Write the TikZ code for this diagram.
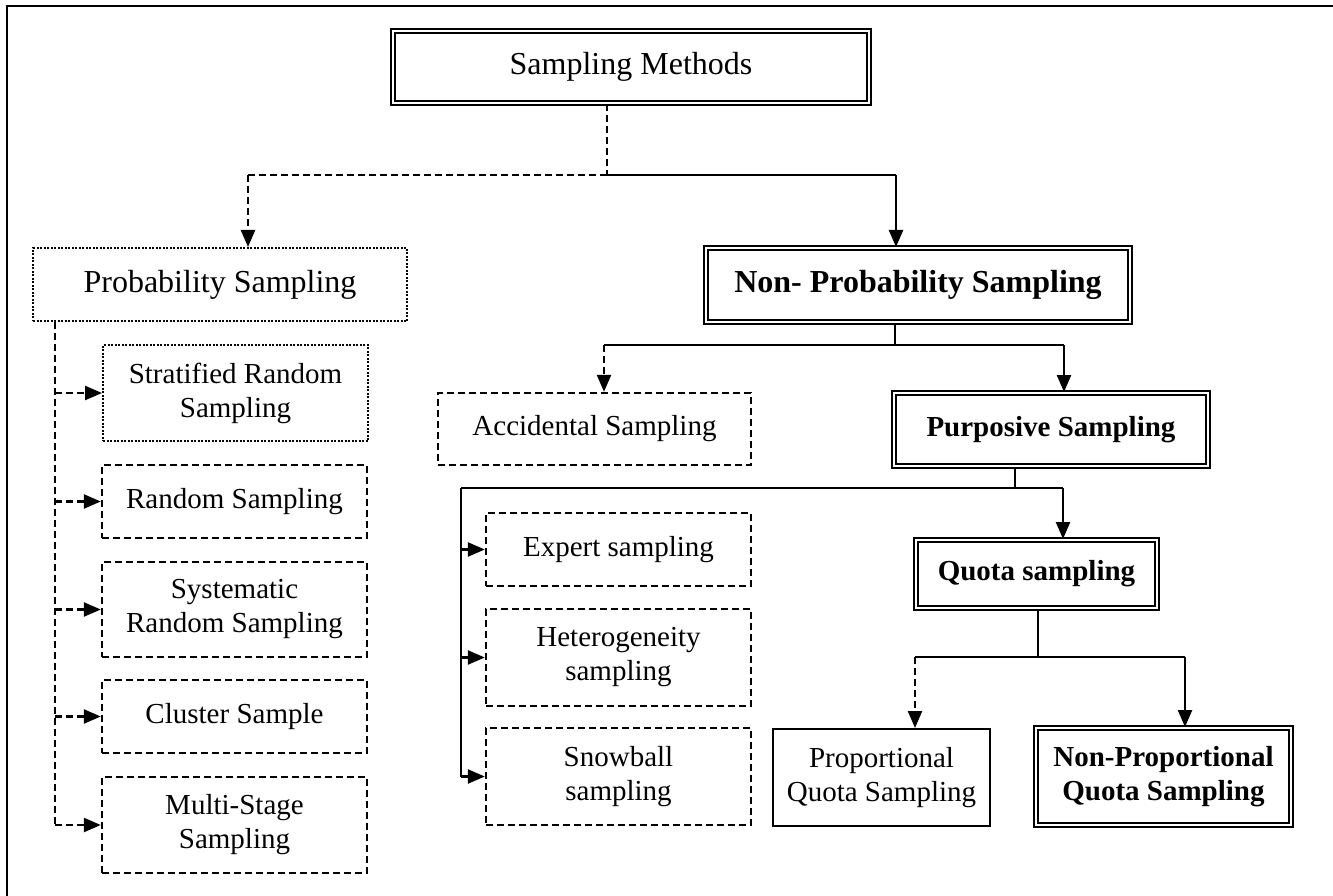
\documentclass[tikz,border=0pt]{standalone}
\usepackage{fontspec}
\setmainfont{Liberation Serif}
\usetikzlibrary{arrows.meta}
\begin{document}
\begin{tikzpicture}[x=1pt,y=-1pt,
  box/.style={draw, line width=2pt, inner sep=0pt, align=center, font=\fontsize{29}{34}\selectfont},
  dbox/.style={box, double, double distance=2.5pt, line width=2pt, font=\fontsize{29}{34}\selectfont\bfseries},
  dashbox/.style={box, dash pattern=on 7pt off 4pt, line width=2.4pt},
  dotbox/.style={box, dash pattern=on 2pt off 1.5pt, line width=2pt},
  ln/.style={line width=2.4pt},
  dln/.style={ln, dash pattern=on 7pt off 4pt},
  arr/.style={-{Triangle[length=17pt,width=14pt]}},
]
\useasboundingbox (0,0) rectangle (1333,896);
\draw[line width=2.4pt] (7,6) rectangle (1338,902);

% nodes
\node[dbox, font={\fontsize{32}{36}\selectfont}, minimum width=476, minimum height=72] (title) at (631,67) {Sampling Methods};
\node[dotbox, font={\fontsize{32}{36}\selectfont}, minimum width=374, minimum height=73] (prob) at (220,284.5) {Probability Sampling};
\node[dbox, font={\fontsize{32}{36}\selectfont\bfseries}, minimum width=424, minimum height=74] (np) at (918,285) {Non- Probability Sampling};

\node[dotbox, minimum width=265, minimum height=96] (strat) at (235.5,393) {Stratified Random\\Sampling};
\node[dashbox, minimum width=265, minimum height=73] (rand) at (234.5,501.5) {Random Sampling};
\node[dashbox, minimum width=265, minimum height=95] (sys) at (234.5,609.5) {Systematic\\Random Sampling};
\node[dashbox, minimum width=265, minimum height=73] (clus) at (234.5,716.5) {Cluster Sample};
\node[dashbox, minimum width=265, minimum height=96] (multi) at (234.5,825) {Multi-Stage\\Sampling};

\node[dashbox, minimum width=313, minimum height=72] (acc) at (594.5,429) {Accidental Sampling};
\node[dbox, minimum width=314, minimum height=73] (pur) at (1051,429.5) {Purposive Sampling};

\node[dashbox, minimum width=265, minimum height=73] (exp) at (618.5,549.5) {Expert sampling};
\node[dashbox, minimum width=265, minimum height=97] (het) at (618.5,657.5) {Heterogeneity\\sampling};
\node[dashbox, minimum width=265, minimum height=97] (snow) at (618.5,776.5) {Snowball\\sampling};

\node[dbox, minimum width=241, minimum height=68] (quota) at (1036.5,574) {Quota sampling};
\node[box, minimum width=217, minimum height=97] (prop) at (881.5,777.5) {Proportional\\Quota Sampling};
\node[dbox, minimum width=255, minimum height=97] (npq) at (1163.5,776.5) {Non-Proportional\\Quota Sampling};

% junction coordinates
\coordinate (j1) at (607,175);
\coordinate (pa) at (248,175);
\coordinate (npa) at (896,175);
\coordinate (j2) at (895,345);
\coordinate (j2l) at (604,345);
\coordinate (j2r) at (1064,345);
\coordinate (j3) at (1015,488);
\coordinate (j3l) at (461,488);
\coordinate (j3r) at (1063,488);
\coordinate (j4) at (1038,657);
\coordinate (j4l) at (915,657);
\coordinate (j4r) at (1185,657);
\coordinate (t) at (55,321);

% top level
\draw[dln] (title.south -| j1) -- (j1);
\draw[dln] (j1) -- (pa);
\draw[dln,arr] (pa) -- (prob.north -| pa);
\draw[ln] (j1) -- (npa);
\draw[ln,arr] (npa) -- (np.north -| npa);

% probability branch
\draw[dln] (prob.south -| t) -- (t |- multi.west);
\foreach \n in {strat,rand,sys,clus,multi}
  \draw[dln,arr] (t |- \n.west) -- (\n.west);

% non-probability branch
\draw[ln] (np.south -| j2) -- (j2);
\draw[ln] (j2l) -- (j2r);
\draw[dln,arr] (j2l) -- (acc.north -| j2l);
\draw[ln,arr] (j2r) -- (pur.north -| j2r);

% purposive branch
\draw[ln] (pur.south -| j3) -- (j3);
\draw[ln] (j3l) -- (j3r);
\draw[ln,arr] (j3r) -- (quota.north -| j3r);
\draw[ln] (j3l) -- (j3l |- snow.west);
\foreach \n in {exp,het,snow}
  \draw[ln,arr] (j3l |- \n.west) -- (\n.west);

% quota branch
\draw[ln] (quota.south -| j4) -- (j4);
\draw[ln] (j4l) -- (j4r);
\draw[dln,arr] (j4l) -- (prop.north -| j4l);
\draw[ln,arr] (j4r) -- (npq.north -| j4r);
\end{tikzpicture}
\end{document}
